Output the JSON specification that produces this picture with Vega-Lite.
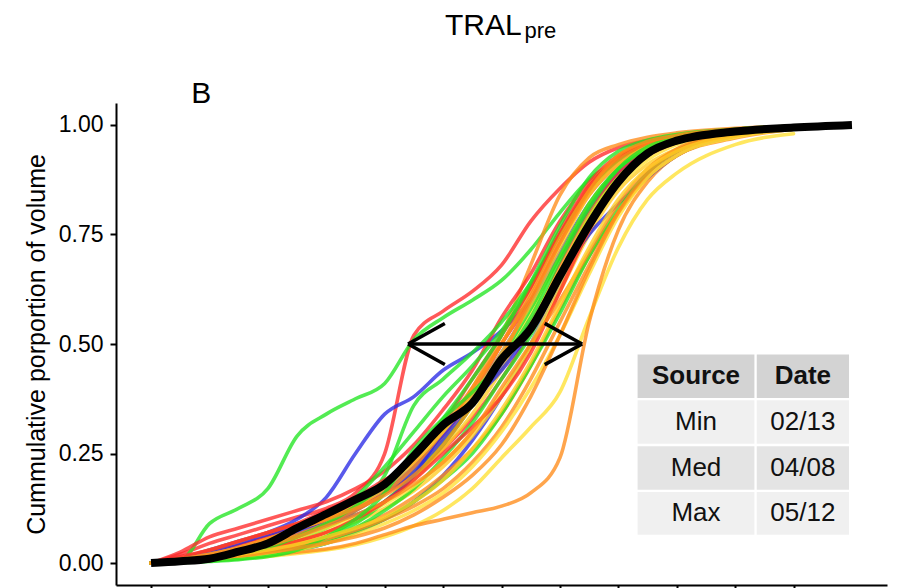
{
  "$schema": "https://vega.github.io/schema/vega-lite/v6.json",
  "width": 771,
  "height": 482,
  "autosize": {"type": "none"},
  "padding": {"left": 116, "top": 103, "right": 10, "bottom": 3},
  "background": "white",
  "config": {
    "font": "Liberation Sans",
    "view": {"stroke": null},
    "axis": {"grid": false, "domainColor": "black", "tickColor": "black", "labelColor": "black", "titleColor": "black", "domainWidth": 2, "tickWidth": 2, "tickSize": 6}
  },
  "title": {
    "text": "TRAL",
    "subtitle": "\u200b\u00a0\u00a0\u00a0\u00a0\u00a0\u00a0\u00a0\u00a0\u00a0\u00a0\u00a0\u00a0\u00a0pre",
    "anchor": "start",
    "frame": "group",
    "dx": 329,
    "fontSize": 30,
    "fontWeight": "normal",
    "color": "black",
    "subtitleFontSize": 22,
    "subtitleColor": "black",
    "subtitlePadding": -19.5,
    "offset": 37
  },
  "datasets": {
    "curves": [
      {"x":0,"M":0,"R1":0,"R2":0,"R3":0,"R4":0,"R5":0,"R6":0,"G1":0,"G2":0,"G3":0,"G4":0,"G5":0,"G6":0,"G7":0,"G8":0,"B1":0,"B2":0,"B3":0,"B4":0,"B5":0,"O1":0,"O2":0,"O3":0,"O4":0,"O5":0,"O6":0,"O7":0,"O8":0,"O9":0,"Y1":0,"Y2":0,"Y3":0,"Y4":0,"Y5":0,"Y6":0,"Y7":0,"Y8":0},
      {"x":0.5,"M":0.004,"R1":0.02,"R2":0.025,"R3":0.01,"R4":0.008,"R5":0.015,"R6":0.005,"G1":0.005,"G2":0.004,"G3":0.003,"G4":0.002,"G5":0.003,"G6":0.002,"G7":0.004,"G8":0.001,"B1":0.01,"B2":0.005,"B3":0.01,"B4":0.006,"B5":0.008,"O1":0.01,"O2":0.003,"O3":0.005,"O4":0.012,"O5":0.007,"O6":0.004,"O7":0.006,"O8":0.004,"O9":0.009,"Y1":0.003,"Y2":0.005,"Y3":0.007,"Y4":0.004,"Y5":0.006,"Y6":0.008,"Y7":0.002,"Y8":0.005},
      {"x":1,"M":0.01,"R1":0.045,"R2":0.06,"R3":0.02,"R4":0.018,"R5":0.03,"R6":0.012,"G1":0.09,"G2":0.01,"G3":0.008,"G4":0.006,"G5":0.007,"G6":0.005,"G7":0.01,"G8":0.004,"B1":0.03,"B2":0.01,"B3":0.025,"B4":0.014,"B5":0.02,"O1":0.025,"O2":0.008,"O3":0.012,"O4":0.03,"O5":0.016,"O6":0.01,"O7":0.015,"O8":0.01,"O9":0.02,"Y1":0.006,"Y2":0.012,"Y3":0.016,"Y4":0.01,"Y5":0.014,"Y6":0.02,"Y7":0.006,"Y8":0.011},
      {"x":1.5,"M":0.026,"R1":0.065,"R2":0.08,"R3":0.04,"R4":0.03,"R5":0.05,"R6":0.022,"G1":0.125,"G2":0.02,"G3":0.015,"G4":0.012,"G5":0.014,"G6":0.01,"G7":0.02,"G8":0.008,"B1":0.05,"B2":0.015,"B3":0.045,"B4":0.025,"B5":0.035,"O1":0.04,"O2":0.012,"O3":0.02,"O4":0.05,"O5":0.028,"O6":0.018,"O7":0.026,"O8":0.016,"O9":0.035,"Y1":0.01,"Y2":0.022,"Y3":0.03,"Y4":0.02,"Y5":0.025,"Y6":0.035,"Y7":0.012,"Y8":0.02},
      {"x":2,"M":0.045,"R1":0.085,"R2":0.1,"R3":0.06,"R4":0.05,"R5":0.07,"R6":0.035,"G1":0.17,"G2":0.03,"G3":0.03,"G4":0.02,"G5":0.025,"G6":0.018,"G7":0.035,"G8":0.015,"B1":0.07,"B2":0.02,"B3":0.065,"B4":0.04,"B5":0.05,"O1":0.06,"O2":0.018,"O3":0.03,"O4":0.07,"O5":0.045,"O6":0.028,"O7":0.04,"O8":0.024,"O9":0.055,"Y1":0.015,"Y2":0.035,"Y3":0.045,"Y4":0.032,"Y5":0.04,"Y6":0.055,"Y7":0.02,"Y8":0.03},
      {"x":2.5,"M":0.08,"R1":0.105,"R2":0.12,"R3":0.09,"R4":0.075,"R5":0.09,"R6":0.05,"G1":0.29,"G2":0.05,"G3":0.06,"G4":0.035,"G5":0.04,"G6":0.03,"G7":0.06,"G8":0.03,"B1":0.1,"B2":0.03,"B3":0.08,"B4":0.06,"B5":0.07,"O1":0.08,"O2":0.025,"O3":0.045,"O4":0.09,"O5":0.065,"O6":0.04,"O7":0.06,"O8":0.034,"O9":0.08,"Y1":0.022,"Y2":0.05,"Y3":0.065,"Y4":0.05,"Y5":0.058,"Y6":0.078,"Y7":0.03,"Y8":0.043},
      {"x":3,"M":0.112,"R1":0.125,"R2":0.14,"R3":0.12,"R4":0.1,"R5":0.11,"R6":0.07,"G1":0.34,"G2":0.08,"G3":0.1,"G4":0.05,"G5":0.06,"G6":0.045,"G7":0.09,"G8":0.06,"B1":0.15,"B2":0.045,"B3":0.1,"B4":0.085,"B5":0.09,"O1":0.1,"O2":0.032,"O3":0.06,"O4":0.11,"O5":0.09,"O6":0.055,"O7":0.085,"O8":0.046,"O9":0.1,"Y1":0.03,"Y2":0.07,"Y3":0.09,"Y4":0.07,"Y5":0.08,"Y6":0.1,"Y7":0.045,"Y8":0.06},
      {"x":3.5,"M":0.145,"R1":0.16,"R2":0.17,"R3":0.15,"R4":0.13,"R5":0.14,"R6":0.1,"G1":0.375,"G2":0.12,"G3":0.15,"G4":0.08,"G5":0.09,"G6":0.07,"G7":0.13,"G8":0.1,"B1":0.25,"B2":0.07,"B3":0.13,"B4":0.12,"B5":0.11,"O1":0.13,"O2":0.045,"O3":0.08,"O4":0.14,"O5":0.12,"O6":0.075,"O7":0.11,"O8":0.06,"O9":0.125,"Y1":0.042,"Y2":0.095,"Y3":0.12,"Y4":0.1,"Y5":0.105,"Y6":0.13,"Y7":0.065,"Y8":0.08},
      {"x":4,"M":0.18,"R1":0.25,"R2":0.21,"R3":0.19,"R4":0.16,"R5":0.18,"R6":0.14,"G1":0.41,"G2":0.2,"G3":0.22,"G4":0.12,"G5":0.14,"G6":0.1,"G7":0.18,"G8":0.16,"B1":0.34,"B2":0.1,"B3":0.17,"B4":0.16,"B5":0.14,"O1":0.17,"O2":0.065,"O3":0.11,"O4":0.18,"O5":0.16,"O6":0.1,"O7":0.14,"O8":0.08,"O9":0.155,"Y1":0.06,"Y2":0.125,"Y3":0.16,"Y4":0.14,"Y5":0.135,"Y6":0.17,"Y7":0.09,"Y8":0.105},
      {"x":4.5,"M":0.245,"R1":0.52,"R2":0.27,"R3":0.23,"R4":0.2,"R5":0.24,"R6":0.19,"G1":0.51,"G2":0.36,"G3":0.3,"G4":0.17,"G5":0.2,"G6":0.14,"G7":0.25,"G8":0.26,"B1":0.38,"B2":0.14,"B3":0.22,"B4":0.21,"B5":0.2,"O1":0.22,"O2":0.085,"O3":0.15,"O4":0.24,"O5":0.22,"O6":0.13,"O7":0.18,"O8":0.11,"O9":0.2,"Y1":0.085,"Y2":0.165,"Y3":0.21,"Y4":0.19,"Y5":0.175,"Y6":0.23,"Y7":0.12,"Y8":0.14},
      {"x":5,"M":0.315,"R1":0.575,"R2":0.35,"R3":0.29,"R4":0.26,"R5":0.32,"R6":0.25,"G1":0.56,"G2":0.42,"G3":0.38,"G4":0.24,"G5":0.27,"G6":0.19,"G7":0.33,"G8":0.33,"B1":0.44,"B2":0.2,"B3":0.29,"B4":0.28,"B5":0.3,"O1":0.3,"O2":0.1,"O3":0.2,"O4":0.31,"O5":0.3,"O6":0.17,"O7":0.23,"O8":0.15,"O9":0.27,"Y1":0.12,"Y2":0.22,"Y3":0.28,"Y4":0.26,"Y5":0.23,"Y6":0.3,"Y7":0.16,"Y8":0.19},
      {"x":5.5,"M":0.365,"R1":0.62,"R2":0.44,"R3":0.38,"R4":0.33,"R5":0.42,"R6":0.31,"G1":0.6,"G2":0.48,"G3":0.45,"G4":0.32,"G5":0.36,"G6":0.25,"G7":0.42,"G8":0.39,"B1":0.48,"B2":0.28,"B3":0.38,"B4":0.36,"B5":0.37,"O1":0.4,"O2":0.115,"O3":0.26,"O4":0.4,"O5":0.39,"O6":0.23,"O7":0.3,"O8":0.2,"O9":0.36,"Y1":0.17,"Y2":0.29,"Y3":0.36,"Y4":0.34,"Y5":0.3,"Y6":0.38,"Y7":0.22,"Y8":0.26},
      {"x":6,"M":0.465,"R1":0.68,"R2":0.56,"R3":0.5,"R4":0.42,"R5":0.52,"R6":0.38,"G1":0.645,"G2":0.55,"G3":0.53,"G4":0.42,"G5":0.47,"G6":0.34,"G7":0.52,"G8":0.46,"B1":0.53,"B2":0.38,"B3":0.48,"B4":0.45,"B5":0.44,"O1":0.52,"O2":0.13,"O3":0.34,"O4":0.5,"O5":0.5,"O6":0.31,"O7":0.4,"O8":0.27,"O9":0.47,"Y1":0.24,"Y2":0.38,"Y3":0.46,"Y4":0.44,"Y5":0.39,"Y6":0.48,"Y7":0.3,"Y8":0.35},
      {"x":6.5,"M":0.535,"R1":0.78,"R2":0.66,"R3":0.6,"R4":0.53,"R5":0.63,"R6":0.48,"G1":0.715,"G2":0.64,"G3":0.63,"G4":0.52,"G5":0.58,"G6":0.45,"G7":0.64,"G8":0.56,"B1":0.6,"B2":0.5,"B3":0.59,"B4":0.55,"B5":0.53,"O1":0.68,"O2":0.16,"O3":0.45,"O4":0.62,"O5":0.61,"O6":0.42,"O7":0.5,"O8":0.38,"O9":0.6,"Y1":0.31,"Y2":0.49,"Y3":0.57,"Y4":0.55,"Y5":0.5,"Y6":0.59,"Y7":0.4,"Y8":0.46},
      {"x":7,"M":0.655,"R1":0.855,"R2":0.78,"R3":0.73,"R4":0.68,"R5":0.76,"R6":0.62,"G1":0.8,"G2":0.75,"G3":0.75,"G4":0.66,"G5":0.7,"G6":0.57,"G7":0.77,"G8":0.69,"B1":0.7,"B2":0.64,"B3":0.71,"B4":0.65,"B5":0.64,"O1":0.84,"O2":0.24,"O3":0.58,"O4":0.75,"O5":0.74,"O6":0.55,"O7":0.6,"O8":0.52,"O9":0.73,"Y1":0.39,"Y2":0.62,"Y3":0.7,"Y4":0.67,"Y5":0.63,"Y6":0.72,"Y7":0.52,"Y8":0.59},
      {"x":7.5,"M":0.772,"R1":0.915,"R2":0.87,"R3":0.84,"R4":0.8,"R5":0.86,"R6":0.76,"G1":0.875,"G2":0.85,"G3":0.85,"G4":0.79,"G5":0.82,"G6":0.7,"G7":0.88,"G8":0.81,"B1":0.81,"B2":0.77,"B3":0.82,"B4":0.75,"B5":0.77,"O1":0.925,"O2":0.55,"O3":0.7,"O4":0.86,"O5":0.85,"O6":0.68,"O7":0.71,"O8":0.67,"O9":0.85,"Y1":0.56,"Y2":0.75,"Y3":0.82,"Y4":0.79,"Y5":0.76,"Y6":0.84,"Y7":0.66,"Y8":0.72},
      {"x":8,"M":0.87,"R1":0.948,"R2":0.93,"R3":0.91,"R4":0.89,"R5":0.925,"R6":0.87,"G1":0.92,"G2":0.92,"G3":0.92,"G4":0.88,"G5":0.9,"G6":0.81,"G7":0.94,"G8":0.9,"B1":0.89,"B2":0.87,"B3":0.9,"B4":0.82,"B5":0.87,"O1":0.955,"O2":0.76,"O3":0.8,"O4":0.93,"O5":0.92,"O6":0.8,"O7":0.82,"O8":0.8,"O9":0.93,"Y1":0.72,"Y2":0.85,"Y3":0.9,"Y4":0.88,"Y5":0.86,"Y6":0.91,"Y7":0.79,"Y8":0.83},
      {"x":8.5,"M":0.935,"R1":0.965,"R2":0.96,"R3":0.95,"R4":0.94,"R5":0.955,"R6":0.93,"G1":0.952,"G2":0.955,"G3":0.955,"G4":0.935,"G5":0.945,"G6":0.89,"G7":0.965,"G8":0.95,"B1":0.94,"B2":0.93,"B3":0.95,"B4":0.88,"B5":0.93,"O1":0.972,"O2":0.87,"O3":0.88,"O4":0.96,"O5":0.955,"O6":0.88,"O7":0.9,"O8":0.89,"O9":0.962,"Y1":0.83,"Y2":0.91,"Y3":0.945,"Y4":0.935,"Y5":0.92,"Y6":0.95,"Y7":0.88,"Y8":0.9},
      {"x":9,"M":0.964,"R1":0.975,"R2":0.975,"R3":0.97,"R4":0.965,"R5":0.972,"R6":0.96,"G1":0.968,"G2":0.97,"G3":0.972,"G4":0.962,"G5":0.968,"G6":0.94,"G7":0.978,"G8":0.97,"B1":0.965,"B2":0.96,"B3":0.97,"B4":0.93,"B5":0.962,"O1":0.982,"O2":0.93,"O3":0.93,"O4":0.975,"O5":0.972,"O6":0.93,"O7":0.945,"O8":0.94,"O9":0.976,"Y1":0.89,"Y2":0.945,"Y3":0.968,"Y4":0.962,"Y5":0.955,"Y6":0.97,"Y7":0.93,"Y8":0.94},
      {"x":10,"M":0.985,"R1":0.99,"R2":0.99,"R3":0.988,"R4":0.985,"R5":0.989,"R6":0.984,"G1":0.985,"G2":0.988,"G3":0.99,"G4":0.985,"G5":0.987,"G6":0.978,"G7":0.99,"G8":0.987,"B1":0.986,"B2":0.984,"B3":0.988,"B4":0.975,"B5":0.985,"O1":0.992,"O2":0.97,"O3":0.975,"O4":0.99,"O5":0.988,"O6":0.975,"O7":0.98,"O8":0.978,"O9":0.99,"Y1":0.955,"Y2":0.978,"Y3":0.987,"Y4":0.985,"Y5":0.98,"Y6":0.988,"Y7":0.972,"Y8":0.976},
      {"x":11,"M":0.994,"R1":0.996,"R2":0.997,"R3":0.996,"R4":0.995,"R5":0.996,"R6":0.994,"G1":0.995,"G2":0.996,"G3":0.997,"G4":0.995,"G5":0.996,"G6":0.993,"G7":0.997,"G8":0.995,"B1":0.995,"B2":0.994,"B3":0.996,"B4":0.992,"B5":0.995,"O1":0.997,"O2":0.99,"O3":0.992,"O4":0.996,"O5":0.996,"O6":0.991,"O7":0.993,"O8":0.993,"O9":0.996,"Y1":0.98,"Y2":0.992,"Y3":0.995,"Y4":0.994,"Y5":0.993,"Y6":0.996,"Y7":0.99,"Y8":0.991},
      {"x":12,"M":1}
    ],
    "table": [
      {"x0":8.33,"x1":10.33,"y0":0.377,"y1":0.476,"cx":9.33,"cy":0.4265,"label":"Source","kind":"head"},
      {"x0":10.37,"x1":11.95,"y0":0.377,"y1":0.476,"cx":11.16,"cy":0.4265,"label":"Date","kind":"head"},
      {"x0":8.33,"x1":10.33,"y0":0.2726,"y1":0.3715,"cx":9.33,"cy":0.322,"label":"Min","kind":"odd"},
      {"x0":10.37,"x1":11.95,"y0":0.2726,"y1":0.3715,"cx":11.16,"cy":0.322,"label":"02/13","kind":"odd"},
      {"x0":8.33,"x1":10.33,"y0":0.1675,"y1":0.2664,"cx":9.33,"cy":0.217,"label":"Med","kind":"even"},
      {"x0":10.37,"x1":11.95,"y0":0.1675,"y1":0.2664,"cx":11.16,"cy":0.217,"label":"04/08","kind":"even"},
      {"x0":8.33,"x1":10.33,"y0":0.0647,"y1":0.1622,"cx":9.33,"cy":0.1135,"label":"Max","kind":"odd"},
      {"x0":10.37,"x1":11.95,"y0":0.0647,"y1":0.1622,"cx":11.16,"cy":0.1135,"label":"05/12","kind":"odd"}
    ],
    "arrow": [
      {"x":4.40,"y":0.5,"x2":7.38,"y2":0.5},
      {"x":4.40,"y":0.5,"x2":5.03,"y2":0.547},
      {"x":4.40,"y":0.5,"x2":5.03,"y2":0.453},
      {"x":7.38,"y":0.5,"x2":6.74,"y2":0.547},
      {"x":7.38,"y":0.5,"x2":6.74,"y2":0.453}
    ],
    "tag": [{"x":0.86,"y":1.05,"label":"B"}]
  },
  "layer": [
    {
      "data": {"name": "curves"},
      "transform": [
        {"fold": ["R1","G1","B1","O1","Y1","R2","G2","B2","O2","Y2","R3","G3","B3","O3","Y3","R4","G4","B4","O4","Y4","R5","G5","B5","O5","Y5","R6","G6","O6","Y6","G7","O7","Y7","G8","O8","Y8","O9"], "as": ["curve","value"]}
      ],
      "mark": {"type": "line", "strokeWidth": 3.6, "opacity": 0.78, "interpolate": "monotone", "strokeCap": "round"},
      "encoding": {
        "x": {"field": "x", "type": "quantitative", "scale": {"domain": [-0.6, 12.6], "nice": false, "zero": false}, "axis": {"values": [0,1,2,3,4,5,6,7,8,9,10,11], "labels": false, "title": null}},
        "y": {"field": "value", "type": "quantitative", "scale": {"domain": [-0.05, 1.05], "nice": false, "zero": false}, "axis": {"values": [0,0.25,0.5,0.75,1], "format": ".2f", "labelFontSize": 23, "labelPadding": 7, "title": "Cummulative porportion of volume", "titleFontSize": 25, "titleFontWeight": "normal", "titlePadding": 9}},
        "color": {"field": "curve", "type": "nominal", "legend": null,
          "scale": {
            "domain": ["R1","G1","B1","O1","Y1","R2","G2","B2","O2","Y2","R3","G3","B3","O3","Y3","R4","G4","B4","O4","Y4","R5","G5","B5","O5","Y5","R6","G6","O6","Y6","G7","O7","Y7","G8","O8","Y8","O9"],
            "range": ["#ff2a2a","#22e622","#2a2ae6","#ff8c1a","#ffe033","#ff2a2a","#22e622","#2a2ae6","#ff8c1a","#ffcc22","#ff2a2a","#22e622","#2a2ae6","#ff8c1a","#ffe033","#ff2a2a","#22e622","#2a2ae6","#ff8c1a","#ffcc22","#ff2a2a","#22e622","#2a2ae6","#ff8c1a","#ffe033","#ff2a2a","#22e622","#ff8c1a","#ffcc22","#22e622","#ff8c1a","#ffe033","#22e622","#ff8c1a","#ffcc22","#ff8c1a"]
          }
        }
      }
    },
    {
      "data": {"name": "curves"},
      "mark": {"type": "line", "strokeWidth": 8, "color": "black", "interpolate": "monotone"},
      "encoding": {
        "x": {"field": "x", "type": "quantitative"},
        "y": {"field": "M", "type": "quantitative"}
      }
    },
    {
      "data": {"name": "arrow"},
      "mark": {"type": "rule", "strokeWidth": 3.5, "color": "black"},
      "encoding": {
        "x": {"field": "x", "type": "quantitative"},
        "x2": {"field": "x2"},
        "y": {"field": "y", "type": "quantitative"},
        "y2": {"field": "y2"}
      }
    },
    {
      "data": {"name": "table"},
      "mark": {"type": "rect"},
      "encoding": {
        "x": {"field": "x0", "type": "quantitative"},
        "x2": {"field": "x1"},
        "y": {"field": "y0", "type": "quantitative"},
        "y2": {"field": "y1"},
        "fill": {"field": "kind", "type": "nominal", "legend": null, "scale": {"domain": ["head","even","odd"], "range": ["#d3d3d3","#e4e4e4","#f0f0f0"]}}
      }
    },
    {
      "data": {"name": "table"},
      "transform": [{"filter": "datum.kind === 'head'"}],
      "mark": {"type": "text", "fontSize": 26, "fontWeight": "bold", "color": "#111111", "baseline": "middle", "align": "center"},
      "encoding": {
        "x": {"field": "cx", "type": "quantitative"},
        "y": {"field": "cy", "type": "quantitative"},
        "text": {"field": "label"}
      }
    },
    {
      "data": {"name": "table"},
      "transform": [{"filter": "datum.kind !== 'head'"}],
      "mark": {"type": "text", "fontSize": 26, "color": "#111111", "baseline": "middle", "align": "center"},
      "encoding": {
        "x": {"field": "cx", "type": "quantitative"},
        "y": {"field": "cy", "type": "quantitative"},
        "text": {"field": "label"}
      }
    },
    {
      "data": {"name": "tag"},
      "mark": {"type": "text", "fontSize": 30, "color": "black", "baseline": "alphabetic", "align": "center"},
      "encoding": {
        "x": {"field": "x", "type": "quantitative"},
        "y": {"field": "y", "type": "quantitative"},
        "text": {"field": "label"}
      }
    }
  ]
}
